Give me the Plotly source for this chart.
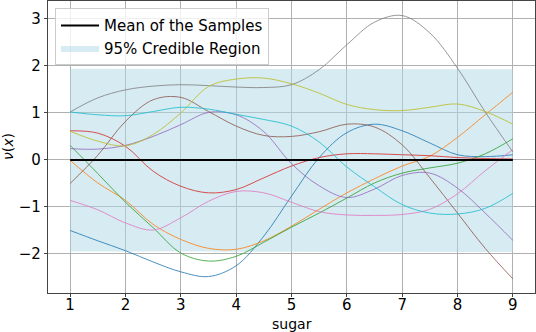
import plotly.graph_objects as go

x = [1, 1.5, 2, 2.5, 3, 3.5, 4, 4.5, 5, 5.5, 6, 6.5, 7, 7.5, 8, 8.5, 9]

s_blue   = [-1.50, -1.72, -1.93, -2.17, -2.38, -2.48, -2.25, -1.62, -0.77, 0.05, 0.58, 0.76, 0.62, 0.36, 0.11, 0.07, 0.11]
s_orange = [-0.01, -0.49, -0.86, -1.37, -1.69, -1.88, -1.90, -1.72, -1.41, -1.05, -0.70, -0.40, -0.13, 0.08, 0.48, 0.96, 1.44]
s_green  = [0.31, -0.29, -0.90, -1.44, -1.98, -2.15, -2.05, -1.75, -1.43, -1.13, -0.81, -0.49, -0.28, -0.17, -0.07, 0.13, 0.45]
s_red    = [0.62, 0.57, 0.29, -0.24, -0.56, -0.70, -0.63, -0.38, -0.13, 0.05, 0.13, 0.13, 0.11, 0.09, 0.05, 0.03, 0.02]
s_purple = [0.24, 0.23, 0.31, 0.50, 0.75, 1.01, 0.96, 0.60, -0.08, -0.55, -0.80, -0.62, -0.33, -0.28, -0.60, -1.13, -1.71]
s_brown  = [-0.50, 0.10, 0.82, 1.28, 1.33, 1.03, 0.72, 0.52, 0.50, 0.60, 0.76, 0.70, 0.32, -0.38, -1.13, -1.88, -2.53]
s_pink   = [-0.86, -1.06, -1.34, -1.49, -1.23, -0.88, -0.67, -0.70, -0.90, -1.10, -1.17, -1.18, -1.16, -1.05, -0.72, -0.23, 0.22]
s_gray   = [1.02, 1.32, 1.49, 1.57, 1.60, 1.58, 1.55, 1.54, 1.60, 1.92, 2.45, 2.93, 3.07, 2.70, 1.95, 1.02, 0.17]
s_olive  = [0.61, 0.40, 0.30, 0.54, 1.00, 1.56, 1.72, 1.74, 1.62, 1.42, 1.18, 1.07, 1.05, 1.12, 1.19, 1.03, 0.76]
s_cyan   = [1.02, 0.96, 0.94, 1.03, 1.12, 1.08, 0.97, 0.86, 0.72, 0.38, -0.15, -0.57, -0.95, -1.13, -1.15, -1.03, -0.71]

samples = [s_blue, s_orange, s_green, s_red, s_purple, s_brown, s_pink, s_gray, s_olive, s_cyan]
colors = ["#1f77b4", "#ff7f0e", "#2ca02c", "#d62728", "#9467bd",
          "#8c564b", "#e377c2", "#7f7f7f", "#bcbd22", "#17becf"]

mean = [0.0] * len(x)
upper = [1.94, 1.94, 1.94, 1.94, 1.93, 1.94, 1.94, 1.94, 1.94, 1.94, 1.94, 1.94, 1.94, 1.93, 1.93, 1.93, 1.93]
lower = [-1.95, -1.95, -1.95, -1.95, -1.94, -1.95, -1.95, -1.95, -1.95, -1.96, -1.96, -1.96, -1.96, -1.96, -1.96, -1.96, -1.96]

xticks = [1, 2, 3, 4, 5, 6, 7, 8, 9]
yticks = [-2, -1, 0, 1, 2, 3]

FONT = "DejaVu Sans"
fig = go.Figure()

fig.add_trace(go.Scatter(
    x=x + x[::-1], y=upper + lower[::-1], fill="toself",
    fillcolor="rgba(173,216,230,0.5)", line=dict(width=0),
    name="95% Credible Region", legendrank=2, hoverinfo="skip"))

for s, c in zip(samples, colors):
    fig.add_trace(go.Scatter(x=x, y=s, mode="lines", line=dict(color=c, width=1, shape="spline"),
                             opacity=0.8, showlegend=False))

fig.add_trace(go.Scatter(x=x, y=mean, mode="lines", line=dict(color="black", width=2),
                         name="Mean of the Samples", legendrank=1))

axis_common = dict(showgrid=True, gridcolor="#b0b0b0", gridwidth=1, zeroline=False,
                   showline=True, mirror=True, linecolor="#444444", linewidth=1.2,
                   ticks="outside", ticklen=3, tickcolor="#444444", automargin=False,
                   tickfont=dict(family=FONT, size=15, color="black"))

fig.update_layout(
    width=536, height=332,
    margin=dict(l=48, r=1, t=1, b=39, autoexpand=False),
    plot_bgcolor="white", paper_bgcolor="white",
    xaxis=dict(range=[0.6, 9.4], tickvals=xticks, ticklabelstandoff=-5, **axis_common),
    yaxis=dict(range=[-2.83, 3.38], tickvals=yticks, **axis_common),
    legend=dict(x=0.0144, y=0.975, xanchor="left", yanchor="top", itemwidth=38,
                bgcolor="rgba(255,255,255,0.8)", bordercolor="#cccccc", borderwidth=1,
                font=dict(family=FONT, size=15, color="black")),
    showlegend=True,
    annotations=[
        dict(text="sugar", xref="paper", yref="paper", x=0.5, y=-0.106,
             xanchor="center", yanchor="middle", showarrow=False,
             font=dict(family=FONT, size=14, color="black")),
        dict(text="<i>ν</i>(<i>x</i>)", xref="paper", yref="paper", x=-0.082, y=0.5,
             xanchor="center", yanchor="middle", showarrow=False, textangle=-90,
             font=dict(family=FONT, size=14, color="black")),
    ],
)

fig.write_html("out.html", config={"displayModeBar": False},
               post_script="document.body.style.margin='0';document.body.style.padding='0';")
